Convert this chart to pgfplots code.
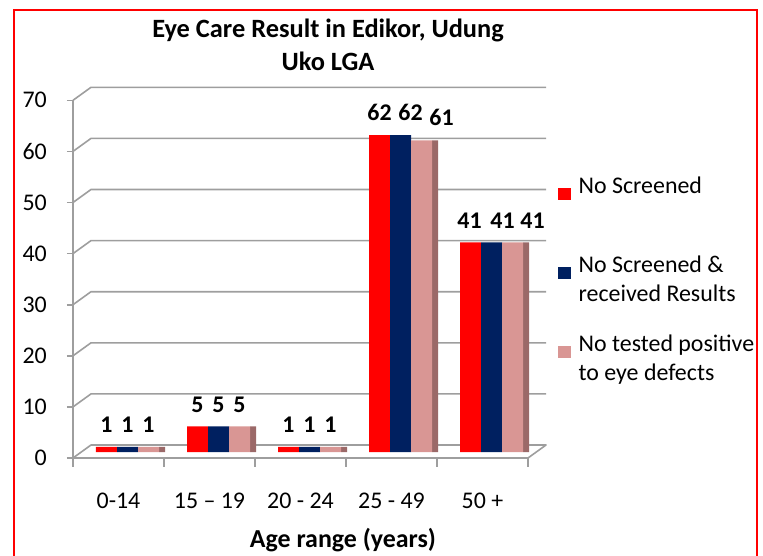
\documentclass[border=0pt]{standalone}
\usepackage{fontspec}
\setmainfont{Carlito}
\usepackage{pgfplots}
\usepackage{pgfplotstable}
\pgfplotsset{compat=1.18}
\definecolor{cRed}{RGB}{255,0,0}
\definecolor{cNavy}{RGB}{0,32,96}
\definecolor{cPink}{RGB}{217,150,148}
\definecolor{cPinkSide}{RGB}{155,105,104}
\definecolor{cGrid}{RGB}{158,158,158}
% x = age group index, y = count, dx = label offset (bp)
\pgfplotstableread{
x y dx
0 1 0
1 5 0
2 1 0
3 62 0
4 41 -1
}\screened
\pgfplotstableread{
x y dx
0 1 0
1 5 0
2 1 0
3 62 10
4 41 11
}\received
\pgfplotstableread{
x y dx
0 1 0
1 5 0
2 1 0
3 61 20
4 41 20
}\positive
\begin{document}
\begin{tikzpicture}
\useasboundingbox (0,0) rectangle (763bp,556bp);
\begin{scope}
\clip (0,0) rectangle (763bp,556bp);
\draw[red, line width=2.5bp] (14bp,-10bp) -- (14bp,546bp) -- (757bp,546bp) -- (757bp,-10bp);
\end{scope}
\begin{axis}[
  x=91bp, y=5.11bp,
  anchor=origin, at={(127.5bp,104bp)},
  xmin=-0.5, xmax=4.5, ymin=0, ymax=70,
  clip=false,
  axis line style={draw=none},
  tick style={draw=none},
  ytick={0,10,...,70},
  xtick={0,1,2,3,4},
  xticklabels={0-14, 15 -- 19, 20 - 24, 25 - 49, 50 +},
  /pgf/number format/assume math mode=true,
  ticklabel style={font=\fontsize{24}{28}\selectfont, inner sep=0pt},
  yticklabel style={anchor=east, xshift=-35bp, yshift=-6bp},
  xticklabel style={anchor=base, xshift=-9bp, yshift=-52bp},
  xlabel={\bfseries Age range  (years)},
  xlabel style={at={(axis description cs:0.5736,0)}, anchor=base, inner sep=0pt, yshift=-95bp, font=\fontsize{26}{28}\selectfont},
  title={\bfseries Eye Care Result in Edikor, Udung\\\bfseries Uko LGA},
  title style={at={(axis description cs:0.5407,1)}, anchor=base, inner sep=0pt, yshift=17.5bp, align=center, font=\fontsize{26.5}{33}\selectfont},
  ybar=0pt, bar width=21bp,
  legend cell align=left,
  legend style={at={(axis description cs:1.046,0.777)}, anchor=north west, draw=none, fill=none, inner sep=0pt,
    font=\fontsize{24}{29}\selectfont, nodes={align=left, inner sep=3bp}, row sep=26bp,
    /tikz/every odd column/.append style={column sep=5bp}},
  legend image code/.code={\fill[#1] (0bp,0.5bp) rectangle (12.5bp,13bp);},
]
% back wall grid lines with 3D connectors
\pgfplotsinvokeforeach{0,10,20,...,70}{
  \draw[cGrid, line width=1.6bp] ([shift={(-15bp,-6bp)}]axis cs:-0.5,#1) -- ([shift={(-9bp,-6bp)}]axis cs:-0.5,#1);
}
\pgfplotsinvokeforeach{10,20,...,70}{
  \draw[cGrid, line width=1.6bp] ([shift={(-9bp,-6bp)}]axis cs:-0.5,#1) -- ([shift={(9bp,7bp)}]axis cs:-0.5,#1) -- ([shift={(9bp,7bp)}]axis cs:4.5,#1);
}
% floor
\draw[cGrid, line width=1.6bp, line join=round] ([shift={(-9bp,-6bp)}]axis cs:-0.5,0) -- ([shift={(-9bp,-6bp)}]axis cs:4.5,0) -- ([shift={(9bp,7bp)}]axis cs:4.5,0) -- ([shift={(9bp,7bp)}]axis cs:-0.5,0) -- cycle;
\draw[cGrid, line width=1.6bp] ([shift={(-9bp,-6bp)}]axis cs:-0.5,0) -- ([shift={(-9bp,-6bp)}]axis cs:-0.5,70);
\pgfplotsinvokeforeach{-0.5,0.5,1.5,2.5,3.5,4.5}{
  \draw[cGrid, line width=1.6bp] ([shift={(-9bp,-6bp)}]axis cs:#1,0) -- ([shift={(-9bp,-15bp)}]axis cs:#1,0);
}
\addplot[fill=cPinkSide, draw=none, bar shift=34.5bp, bar width=6bp, forget plot] table[x=x, y=y] {\positive};
\addplot[fill=cRed, draw=none, bar shift=-21bp,
  visualization depends on={\thisrow{dx} \as \labdx},
  nodes near coords, nodes near coords style={font=\bfseries\fontsize{24}{28}\selectfont, anchor=south, inner sep=0pt, yshift=14bp, xshift=\labdx bp}]
  table[x=x, y=y] {\screened};
\addlegendentry{No Screened\\\vphantom{y}}
\addplot[fill=cNavy, draw=none, bar shift=0bp,
  visualization depends on={\thisrow{dx} \as \labdx},
  nodes near coords, nodes near coords style={font=\bfseries\fontsize{24}{28}\selectfont, anchor=south, inner sep=0pt, yshift=14bp, xshift=\labdx bp}]
  table[x=x, y=y] {\received};
\addlegendentry{No Screened \&\\received Results}
\addplot[fill=cPink, draw=none, bar shift=21bp,
  visualization depends on={\thisrow{dx} \as \labdx},
  nodes near coords, nodes near coords style={font=\bfseries\fontsize{24}{28}\selectfont, anchor=south, inner sep=0pt, yshift=14bp, xshift=\labdx bp}]
  table[x=x, y=y] {\positive};
\addlegendentry{No tested positive\\to eye defects}
\end{axis}
\end{tikzpicture}
\end{document}
